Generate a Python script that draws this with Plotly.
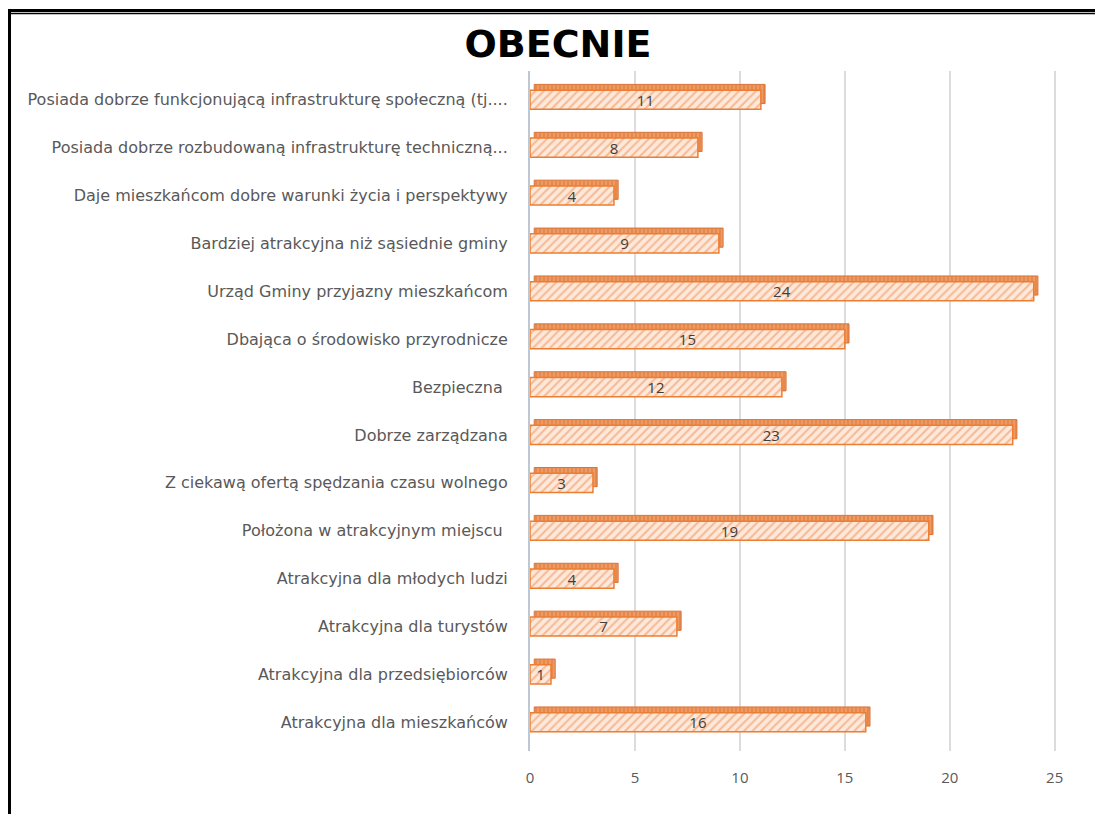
import plotly.graph_objects as go

categories = [
    "Atrakcyjna dla mieszkańców",
    "Atrakcyjna dla przedsiębiorców",
    "Atrakcyjna dla turystów",
    "Atrakcyjna dla młodych ludzi",
    "Położona w atrakcyjnym miejscu ",
    "Z ciekawą ofertą spędzania czasu wolnego",
    "Dobrze zarządzana",
    "Bezpieczna ",
    "Dbająca o środowisko przyrodnicze",
    "Urząd Gminy przyjazny mieszkańcom",
    "Bardziej atrakcyjna niż sąsiednie gminy",
    "Daje mieszkańcom dobre warunki życia i perspektywy",
    "Posiada dobrze rozbudowaną infrastrukturę techniczną...",
    "Posiada dobrze funkcjonującą infrastrukturę społeczną (tj....",
]
values = [16, 1, 7, 4, 19, 3, 23, 12, 15, 24, 9, 4, 8, 11]
x_ticks = [0, 5, 10, 15, 20, 25]

W, H = 1103, 814
OFF = 8  # page body margin: screen pixel = figure pixel + OFF
ML, MR, MT, MB = 530 - OFF, 50, 63, 71

fig = go.Figure()

# depth (3D top/side face)
fig.add_trace(go.Bar(
    y=categories, x=values, base=0.2, orientation="h",
    width=0.4, offset=-0.08,
    marker=dict(color="#e38a4f", line=dict(color="#d9733a", width=1),
                pattern=dict(shape="|", fgcolor="#c8612a", bgcolor="#ef9a60", size=4, solidity=0.3)),
    hoverinfo="skip", showlegend=False,
))
# front face
fig.add_trace(go.Bar(
    y=categories, x=values, orientation="h",
    width=0.4, offset=-0.2,
    text=[str(v) for v in values], textposition="inside", insidetextanchor="middle",
    constraintext="none", textangle=0,
    textfont=dict(family="Open Sans", size=15, color="#404040"),
    marker=dict(color="#fde6d6", line=dict(color="#ed7d31", width=1.5),
                pattern=dict(shape="/", fgcolor="#f08a4b", bgcolor="#fde9dc", size=6, solidity=0.35)),
    showlegend=False,
))

# frame around the picture (screen pixel positions converted to paper coords)
pw, ph = W - ML - MR, H - MT - MB
def px(x):
    return (x - OFF - ML) / pw
def py(y):
    return 1 - (y - OFF - MT) / ph

shapes = [
    dict(type="line", xref="paper", yref="paper", x0=px(8), x1=px(W + 20), y0=py(10.5), y1=py(10.5),
         line=dict(color="black", width=3)),
    dict(type="line", xref="paper", yref="paper", x0=px(11), x1=px(W + 20), y0=py(13.5), y1=py(13.5),
         line=dict(color="black", width=1.3)),
    dict(type="line", xref="paper", yref="paper", x0=px(9.5), x1=px(9.5), y0=py(9), y1=py(H + 20),
         line=dict(color="black", width=3)),
]

fig.update_layout(
    width=W, height=H,
    margin=dict(l=ML, r=MR, t=MT, b=MB, autoexpand=False),
    paper_bgcolor="white", plot_bgcolor="white",
    barmode="overlay",
    title=dict(text="<b>OBECNIE</b>", x=(558 - OFF) / W, xanchor="center", y=1 - (44 - OFF) / H,
               yanchor="middle",
               font=dict(family="DejaVu Sans", size=38, color="black")),
    xaxis=dict(range=[0, 25.3], tickvals=x_ticks, showgrid=True, gridcolor="#dcdcdc", gridwidth=1.5,
               zeroline=False, showline=False, ticks="", ticklabelstandoff=16,
               tickfont=dict(family="Open Sans", size=15, color="#595959")),
    yaxis=dict(categoryorder="array", categoryarray=categories, range=[-0.6, 13.6],
               showline=True, linecolor="#bfc7d0", linewidth=2, ticks="", ticklabelstandoff=17,
               tickfont=dict(family="DejaVu Sans", size=16, color="#595959")),
    shapes=shapes,
)

fig.write_html("out.html")
